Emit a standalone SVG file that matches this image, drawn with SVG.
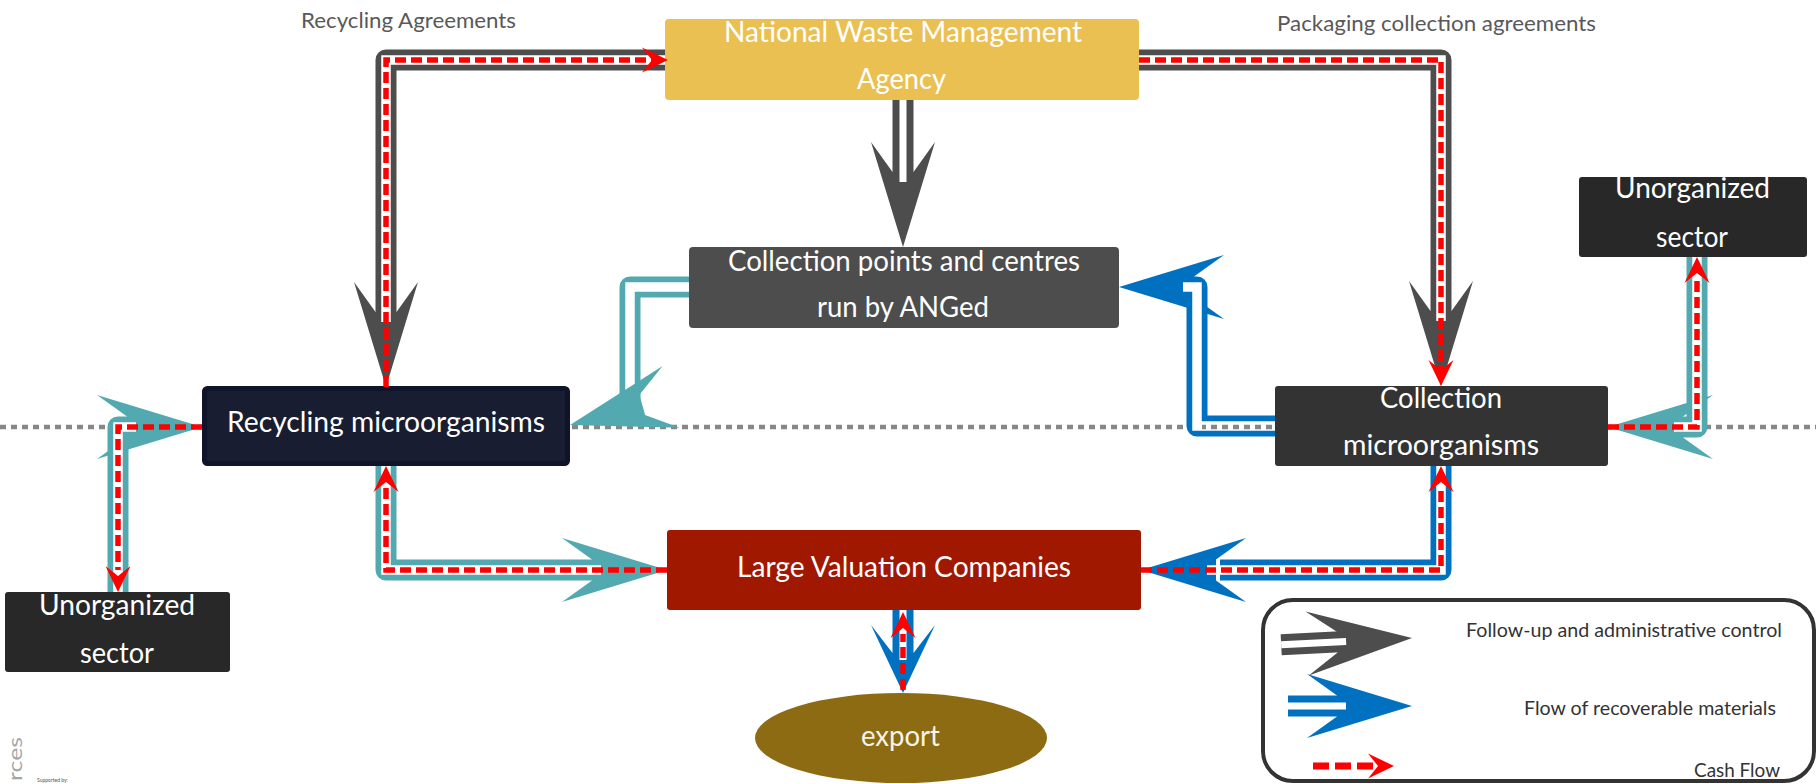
<svg xmlns="http://www.w3.org/2000/svg" width="1816" height="784" viewBox="0 0 1816 784">
<defs>
<style>
text{font-family:Lato,"Open Sans","Liberation Sans",sans-serif}
.nt{fill:#fff;font-size:28px}
.lb{fill:#595959;font-size:22px}
.lg{fill:#333;font-size:20px}
.dots{stroke:#878787;stroke-width:4.5;stroke-dasharray:6 5;fill:none}
.sh{fill:none;stroke-width:21;stroke-linejoin:round}
.g{stroke:#4D4D4D}.t{stroke:#52A9B0}.b{stroke:#0070C0}
.gap{fill:none;stroke:#fff;stroke-width:9.5}
.cash{fill:none;stroke:#f00;stroke-width:5.5;stroke-dasharray:11 5}
.fg{fill:#4D4D4D}.ft{fill:#52A9B0}.fb{fill:#0070C0}.fr{fill:#f00}
</style>
<path id="hd" d="M0,0 L-105,-32 L-75,-10.5 L-75,10.5 L-105,32 Z"/>
<path id="hs" d="M0,0 L-68,-32 L-40,-10.5 L-40,10.5 L-68,32 Z"/>
<path id="rh" d="M0,0 L-26,-12.5 L-16,0 L-26,12.5 Z"/>
</defs>
<rect x="0" y="0" width="1816" height="784" fill="#fff"/>
<path class="dots" d="M0,427 H1816"/>
<text class="lb" x="301" y="28" textLength="215" lengthAdjust="spacingAndGlyphs">Recycling Agreements</text>
<text class="lb" x="1277" y="31" textLength="319" lengthAdjust="spacingAndGlyphs">Packaging collection agreements</text>

<g id="nwma">
<rect x="665" y="19" width="474" height="81" rx="4" fill="#EBC052"/>
<text class="nt" x="724" y="42" textLength="358" lengthAdjust="spacingAndGlyphs">National Waste Management</text>
<text class="nt" x="857" y="89" textLength="89" lengthAdjust="spacingAndGlyphs">Agency</text>
</g>
<g id="collection-points">
<rect x="689" y="247" width="430" height="81" rx="4" fill="#4D4D4D"/>
<text class="nt" x="728" y="271" textLength="352" lengthAdjust="spacingAndGlyphs">Collection points and centres</text>
<text class="nt" x="817" y="317" textLength="172" lengthAdjust="spacingAndGlyphs">run by ANGed</text>
</g>
<g id="recycling-micro">
<rect x="204.5" y="388.5" width="363" height="75" rx="3" fill="#181D31" stroke="#10142A" stroke-width="5"/>
<text class="nt" x="227" y="432" textLength="318" lengthAdjust="spacingAndGlyphs">Recycling microorganisms</text>
</g>
<g id="collection-micro">
<rect x="1275" y="386" width="333" height="80" rx="3" fill="#333333"/>
<text class="nt" x="1380" y="408" textLength="122" lengthAdjust="spacingAndGlyphs">Collection</text>
<text class="nt" x="1343" y="455" textLength="196" lengthAdjust="spacingAndGlyphs">microorganisms</text>
</g>
<g id="unorganized-right">
<rect x="1579" y="177" width="228" height="80" rx="3" fill="#282828"/>
<text class="nt" x="1615" y="198" textLength="155" lengthAdjust="spacingAndGlyphs">Unorganized</text>
<text class="nt" x="1656" y="247" textLength="72" lengthAdjust="spacingAndGlyphs">sector</text>
</g>
<g id="unorganized-left">
<rect x="5" y="592" width="225" height="80" rx="3" fill="#282828"/>
<text class="nt" x="39" y="615" textLength="156" lengthAdjust="spacingAndGlyphs">Unorganized</text>
<text class="nt" x="80" y="663" textLength="74" lengthAdjust="spacingAndGlyphs">sector</text>
</g>
<g id="large-valuation">
<rect x="667" y="530" width="474" height="80" rx="3" fill="#A11800"/>
<text class="nt" x="737" y="577" textLength="334" lengthAdjust="spacingAndGlyphs">Large Valuation Companies</text>
</g>
<g id="export">
<ellipse cx="901" cy="738" rx="146" ry="45" fill="#8C6B12"/>
<text class="nt" x="861" y="746" textLength="79" lengthAdjust="spacingAndGlyphs" style="fill:#F8F3E6">export</text>
</g>

<g id="connectors">
<!-- Recycling agreements -->
<path class="sh g" d="M665,60 H386 V316"/>
<use href="#hd" class="fg" transform="translate(386,387) rotate(90)"/>
<path class="gap" d="M665,60 H386 V322"/>
<path class="cash" d="M386,387 V60 H652"/>
<use href="#rh" class="fr" transform="translate(668,60)"/>
<!-- Packaging collection agreements -->
<path class="sh g" d="M1139,60 H1441 V316"/>
<use href="#hd" class="fg" transform="translate(1441,386) rotate(90)"/>
<path class="gap" d="M1139,60 H1441 V321"/>
<path class="cash" d="M1139,60 H1441 V370"/>
<use href="#rh" class="fr" transform="translate(1441,386) rotate(90)"/>
<!-- NWMA to collection points -->
<path class="sh g" d="M903,100 V176"/>
<use href="#hd" class="fg" transform="translate(903,247) rotate(90)"/>
<path class="gap" d="M903,100 V182" style="stroke-width:7"/>
<!-- Collection points to recycling micro -->
<path class="sh t" d="M689,287 H630 V410"/>
<path class="gap" d="M689,287 H630 V402"/>
<use href="#hd" class="ft" transform="translate(570,425) rotate(164.5)"/>
<!-- Unorganized left <-> recycling micro -->
<path class="sh t" d="M118,592 V427 H130"/>
<use href="#hd" class="ft" transform="translate(202,427)"/>
<path class="gap" d="M118,592 V427 H136"/>
<path class="cash" d="M202,427 H118 V570"/>
<use href="#rh" class="fr" transform="translate(118,592) rotate(90)"/>
<!-- Recycling micro <-> large valuation -->
<path class="sh t" d="M386,466 V570 H595"/>
<use href="#hd" class="ft" transform="translate(667,570)"/>
<path class="gap" d="M386,466 V570 H601"/>
<path class="cash" d="M667,570 H386 V488"/>
<use href="#rh" class="fr" transform="translate(386,466) rotate(-90)"/>
<!-- Unorganized right <-> collection micro -->
<path class="sh t" d="M1697,257 V427 H1680"/>
<use href="#hd" class="ft" transform="translate(1608,427) rotate(180)"/>
<path class="gap" d="M1697,257 V427 H1674"/>
<path class="cash" d="M1608,427 H1697 V279"/>
<use href="#rh" class="fr" transform="translate(1697,257) rotate(-90)"/>
<!-- Collection micro to collection points -->
<path class="sh b" d="M1275,426 H1197 V287 H1190"/>
<use href="#hd" class="fb" transform="translate(1119,287) rotate(180)"/>
<path class="gap" d="M1275,426 H1197 V287 H1183"/>
<path class="dots" d="M1202,427 H1275" stroke-dashoffset="2"/>
<!-- Collection micro <-> large valuation -->
<path class="sh b" d="M1441,466 V570 H1220"/>
<use href="#hd" class="fb" transform="translate(1141,570) rotate(180)"/>
<path class="gap" d="M1441,466 V570 H1207"/>
<path class="cash" d="M1141,570 H1441 V488"/>
<use href="#rh" class="fr" transform="translate(1441,466) rotate(-90)"/>
<!-- Large valuation <-> export -->
<path class="sh b" d="M903,610 V656"/>
<use href="#hs" class="fb" transform="translate(903,693) rotate(90)"/>
<path class="gap" d="M903,610 V660" style="stroke-width:7"/>
<path class="cash" d="M903,690 V634"/>
<use href="#rh" class="fr" transform="translate(903,612) rotate(-90)"/>
</g>

<g id="legend">
<rect x="1263" y="600" width="551" height="181" rx="30" fill="#fff" stroke="#333" stroke-width="4"/>
<g transform="translate(1412,638) rotate(-3)">
<path class="sh g" d="M-131,0 H-72"/>
<use href="#hd" class="fg"/>
<path class="gap" d="M-131,0 H-66" style="stroke-width:7"/>
</g>
<g transform="translate(1412,706)">
<path class="sh b" d="M-124,0 H-72"/>
<use href="#hd" class="fb"/>
<path class="gap" d="M-124,0 H-66" style="stroke-width:7"/>
</g>
<path d="M1313,766 H1374" stroke="#f00" stroke-width="7" stroke-dasharray="16 6" fill="none"/>
<use href="#rh" class="fr" transform="translate(1394,766)"/>
<text class="lg" x="1466" y="637" textLength="316" lengthAdjust="spacingAndGlyphs">Follow-up and administrative control</text>
<text class="lg" x="1524" y="715" textLength="252" lengthAdjust="spacingAndGlyphs">Flow of recoverable materials</text>
<text class="lg" x="1694" y="777" textLength="86" lengthAdjust="spacingAndGlyphs">Cash Flow</text>
</g>

<text transform="translate(22,781) rotate(-90)" style="font-size:20px;fill:#A6A6A6" textLength="44" lengthAdjust="spacingAndGlyphs">rces</text>
<text x="37" y="782" style="font-size:5px;fill:#555">Supported by:</text>
</svg>
